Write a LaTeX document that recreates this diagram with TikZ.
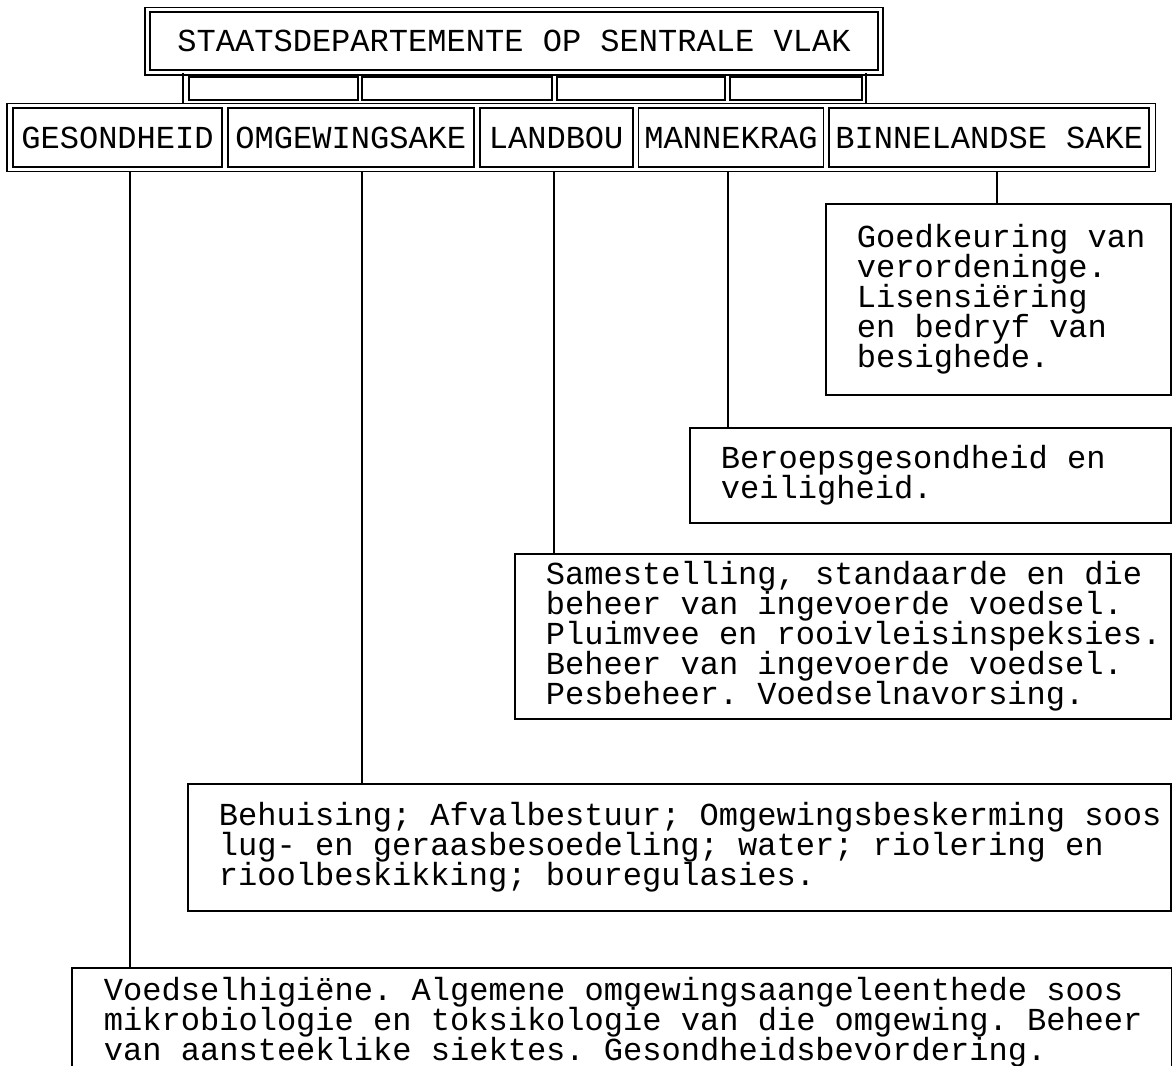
\documentclass[tikz,border=0pt]{standalone}
\usepackage{fontspec}
\setmainfont{Liberation Mono}[WordSpace={1,0,0}]
\usetikzlibrary{fit,positioning}
\hyphenpenalty=10000
\exhyphenpenalty=10000
\tikzset{
    org chart/.style = {line width=1.3pt,
                        font=\fontsize{22.8pt}{21.3pt}\selectfont},
    head/.style      = {draw, double, double distance=2.2pt, inner sep=0pt,
                        minimum width=18.325cm, minimum height=1.5625cm},
    link/.style      = {draw, inner sep=0pt, minimum height=0.575cm},
    dept/.style      = {draw, inner sep=0pt, minimum height=1.475cm},
    rowframe/.style  = {draw, inner xsep=0.13cm, inner ysep=0.09cm},
    duty/.style      = {draw, anchor=north west, align=flush left,
                        inner xsep=0.775cm, inner ysep=0pt,
                        execute at begin node={\spaceskip=0.6em\relax
                                               \xspaceskip=0.6em\relax}},
    openduty/.style  = {duty, draw=none}
}

\begin{document}
\begin{tikzpicture}[org chart]
\useasboundingbox (0,0) rectangle (29.3,-26.65);
\clip (0,0) rectangle (29.3,-26.65);

% ================= Central level =================
\node[head] (head) at (12.85,-1.03) {STAATSDEPARTEMENTE OP SENTRALE VLAK};

% ================= Link bar =================
\node[link, minimum width=4.225cm] (link1) at ( 6.8375,-2.2125) {};
\node[link, minimum width=4.75cm]  (link2) at (11.425, -2.2125) {};
\node[link, minimum width=4.2cm]   (link3) at (16.025, -2.2125) {};
\node[link, minimum width=3.3cm]   (link4) at (19.9,   -2.2125) {};

% ================= Departments =================
\node[dept, minimum width=5.225cm] (ges) at (2.9375,-3.4375) {GESONDHEID};
\node[dept, minimum width=6.15cm,  right=0.1cm of ges] (omg) {OMGEWINGSAKE};
\node[dept, minimum width=3.825cm, right=0.1cm of omg] (lan) {LANDBOU};
\node[dept, minimum width=4.625cm, right=0.1cm of lan] (man) {MANNEKRAG};
\node[dept, minimum width=8.0cm,   right=0.1cm of man] (bin) {BINNELANDSE SAKE};
\node[rowframe, fit=(ges) (omg) (lan) (man) (bin)] (row) {};

\coordinate (barL) at (4.575,0);
\coordinate (barR) at (21.65,0);
\draw (head.south -| barL) -- (row.north -| barL);
\draw (head.south -| barR) -- (row.north -| barR);

% ================= Duties =================
\node[duty, text width=7.075cm, minimum height=4.775cm] (binDuty)
    at (20.625,-5.075)
    {Goedkeuring~van\\ verordeninge.\\ Lisensiëring\\ en bedryf van\\ besighede.};
\node[duty, text width=10.475cm, minimum height=2.375cm] (manDuty)
    at (17.225,-10.675)
    {Beroepsgesondheid en\\ veiligheid.};
\node[duty, text width=14.85cm, minimum height=4.125cm] (lanDuty)
    at (12.85,-13.825)
    {Samestelling,~standaarde~en~die\\ beheer van ingevoerde voedsel.\\
     Pluimvee~en~rooivleisinspeksies.\\ Beheer van ingevoerde voedsel.\\
     Pesbeheer. Voedselnavorsing.};
\node[duty, text width=23.025cm, minimum height=3.175cm] (omgDuty)
    at (4.675,-19.575)
    {Behuising;~Afvalbestuur;~Omgewingsbeskerming~soos\\
     lug- en geraasbesoedeling; water; riolering en\\
     rioolbeskikking; bouregulasies.};
\node[openduty, text width=25.9cm, minimum height=2.65cm] (gesDuty)
    at (1.8,-24.2)
    {Voedselhigiëne. Algemene omgewingsaangeleenthede soos\\
     mikrobiologie~en~toksikologie~van~die~omgewing.~Beheer\\
     van aansteeklike siektes. Gesondheidsbevordering.};
\coordinate (pageFoot) at (0,-26.65);
\draw (gesDuty.west |- pageFoot) -- (gesDuty.north west)
      -- (gesDuty.north east) -- (gesDuty.east |- pageFoot);

% ================= Connectors =================
\coordinate (tapGes) at (3.25,0);
\coordinate (tapOmg) at (9.05,0);
\coordinate (tapLan) at (13.85,0);
\coordinate (tapMan) at (18.2,0);
\coordinate (tapBin) at (24.925,0);
\draw (row.south -| tapGes) -- (gesDuty.north -| tapGes);
\draw (row.south -| tapOmg) -- (omgDuty.north -| tapOmg);
\draw (row.south -| tapLan) -- (lanDuty.north -| tapLan);
\draw (row.south -| tapMan) -- (manDuty.north -| tapMan);
\draw (row.south -| tapBin) -- (binDuty.north -| tapBin);

\end{tikzpicture}
\end{document}
